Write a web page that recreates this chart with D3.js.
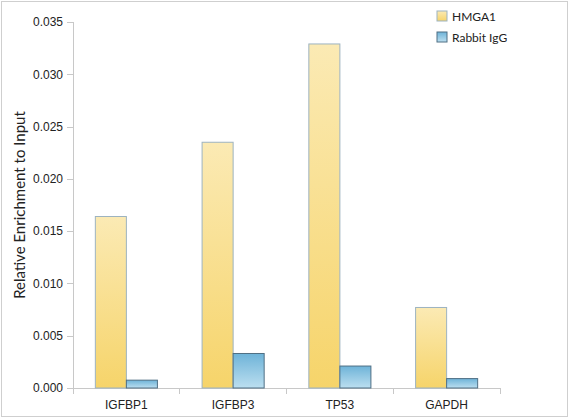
<!DOCTYPE html>
<html>
<head>
<meta charset="utf-8">
<script src="https://cdn.jsdelivr.net/npm/d3@7"></script>
<style>
  body { margin: 0; background: #fff; }
  svg { font-family: Lato, "Open Sans", sans-serif; }
  .axis text { font-size: 12px; fill: #222; }
  .axis path, .axis line { fill: none; stroke: #c8c8c8; shape-rendering: crispEdges; }
</style>
</head>
<body>
<svg id="chart"></svg>
<script>
const genes = ['IGFBP1', 'IGFBP3', 'TP53', 'GAPDH'];
const seriesNames = ['HMGA1', 'Rabbit IgG'];
const hmga1 = [0.0164, 0.0235, 0.0329, 0.0077];
const rabbitIgG = [0.00075, 0.0033, 0.0021, 0.0009];
const yTicks = [0, 0.005, 0.010, 0.015, 0.020, 0.025, 0.030, 0.035];

const W = 569, H = 418;
const margin = {top: 22, right: 69, bottom: 30, left: 73},
    width = W - margin.left - margin.right,
    height = H - margin.top - margin.bottom;

const svg = d3.select('#chart').attr('width', W).attr('height', H);

const defs = svg.append('defs');
const gy = defs.append('linearGradient').attr('id', 'gYellow')
  .attr('x1', 0).attr('y1', 0).attr('x2', 0).attr('y2', 1);
gy.append('stop').attr('offset', '0%').attr('stop-color', '#fbeab4');
gy.append('stop').attr('offset', '100%').attr('stop-color', '#f6d46a');
const gb = defs.append('linearGradient').attr('id', 'gBlue')
  .attr('x1', 0).attr('y1', 0).attr('x2', 0).attr('y2', 1);
gb.append('stop').attr('offset', '0%').attr('stop-color', '#6eb3d8');
gb.append('stop').attr('offset', '100%').attr('stop-color', '#bcdff0');

// outer frame
svg.append('rect')
  .attr('x', 1.5).attr('y', 1.5).attr('width', W - 3).attr('height', H - 3)
  .attr('fill', 'none').attr('stroke', '#cfcfcf');

const chart = svg.append('g')
  .attr('transform', `translate(${margin.left},${margin.top})`);

const x = d3.scaleBand().domain(genes).range([0, width]).paddingInner(0).paddingOuter(0);
const x1 = d3.scaleBand().domain(seriesNames).range([0, x.bandwidth()]).paddingOuter(0.72).paddingInner(0);
const y = d3.scaleLinear().domain([0, 0.035]).range([height, 0]);

const xAxis = d3.axisBottom(x).tickSize(0).tickPadding(12);
const yAxis = d3.axisLeft(y).tickValues(yTicks).tickFormat(d3.format('.3f')).tickSize(6).tickPadding(4);

chart.append('g').attr('class', 'y axis').call(yAxis)
  .call(g => g.select('.domain').attr('d', `M0,0V${height}`));

const xg = chart.append('g').attr('class', 'x axis')
  .attr('transform', `translate(0,${height})`).call(xAxis);
xg.select('.domain').attr('d', `M0,0H${width}`);
// band boundary ticks
xg.selectAll('.bound')
  .data(d3.range(genes.length + 1))
  .enter().append('line')
  .attr('class', 'bound')
  .attr('x1', i => i * x.bandwidth()).attr('x2', i => i * x.bandwidth())
  .attr('y1', 0).attr('y2', 6);

const rows = genes.map((g, i) => ({gene: g, values: [hmga1[i], rabbitIgG[i]]}));

const groups = chart.selectAll('.grp')
  .data(rows)
  .enter().append('g')
  .attr('class', 'grp')
  .attr('transform', d => `translate(${x(d.gene)},0)`);

groups.selectAll('rect')
  .data(d => d.values.map((v, k) => ({series: seriesNames[k], value: v})))
  .enter().append('rect')
  .attr('x', d => x1(d.series))
  .attr('y', d => y(d.value))
  .attr('width', x1.bandwidth())
  .attr('height', d => height - y(d.value))
  .attr('fill', d => d.series === 'HMGA1' ? 'url(#gYellow)' : 'url(#gBlue)')
  .attr('stroke', d => d.series === 'HMGA1' ? '#9db3c0' : '#4f6f84')
  .attr('stroke-width', 1);

// y label
svg.append('text')
  .attr('transform', `translate(25,${margin.top + height / 2}) rotate(-90)`)
  .attr('text-anchor', 'middle')
  .style('font-size', '15px')
  .attr('fill', '#222')
  .text('Relative Enrichment to Input');

// legend
const legend = svg.append('g').attr('transform', 'translate(437,11)');
seriesNames.forEach((s, i) => {
  const row = legend.append('g').attr('transform', `translate(0,${i * 21})`);
  row.append('rect').attr('width', 10).attr('height', 10)
    .attr('fill', i === 0 ? 'url(#gYellow)' : 'url(#gBlue)')
    .attr('stroke', i === 0 ? '#9db3c0' : '#4f6f84');
  row.append('text').attr('x', 15).attr('y', 9.5)
    .style('font-size', '12px').attr('fill', '#222').text(s);
});
</script>
</body>
</html>
